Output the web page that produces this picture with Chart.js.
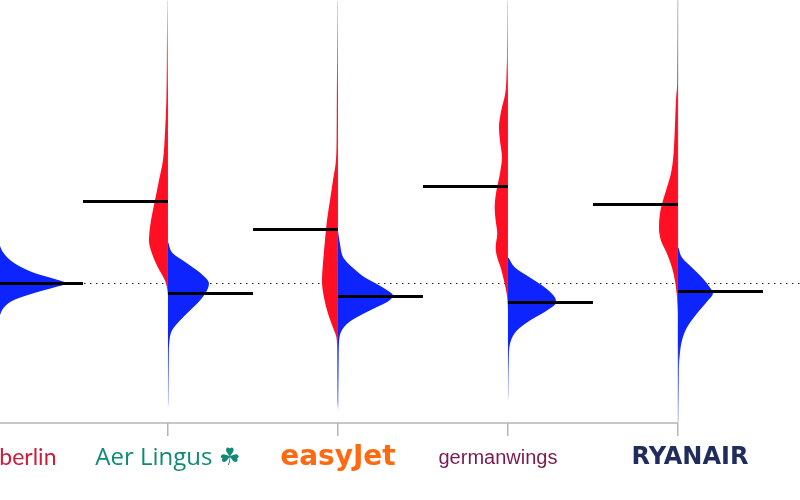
<!DOCTYPE html>
<html>
<head>
<meta charset="utf-8">
<script src="https://cdn.jsdelivr.net/npm/chart.js@4"></script>
<style>
    html, body { margin: 0; padding: 0; background: #fff; }
    #wrap { width: 800px; height: 500px; }
</style>
</head>
<body>
<div id="wrap"><canvas id="chart"></canvas></div>
<script>
// Split violins: red = left half, blue = right half, one pair per airline

const airlines = ['airberlin', 'Aer Lingus', 'easyJet', 'germanwings', 'Ryanair'];
const tickLabels = ['\u2002\u2002\u2002airberlin', 'Aer Lingus \u2618', 'easyJet', 'germanwings\u2003', '\u2003RYANAIR'];
const labelColors = ['#c81e3c', '#108a74', '#ff6a10', '#7b1a4f', '#1f2c5c'];

// [value, density] pairs (top to bottom)
const airberlinRed = [[283, 0.6], [150, 0.8], [110, 3], [90, 10], [73, 16], [55, 14], [35, 6], [15, 1.5], [0, 0]];
const airberlinBlue = [[50, 0.5], [38, 2], [30, 6], [22, 14], [15, 26], [10, 38], [5, 55], [0, 68], [-4, 56], [-9, 38], [-17, 15], [-24, 6], [-32, 2], [-45, 0.8], [-80, 0]];

const aerLingusRed = [[283, 0.7], [250, 1], [183, 1.6], [150, 3], [123, 5], [103, 9], [83, 13], [63, 17], [43, 19], [30, 16], [16, 10], [3, 3], [-7, 0.5], [-12, 0]];
const aerLingusBlue = [[42, 0], [30, 5], [23, 15], [16, 25], [10, 33], [0, 41], [-7, 39], [-17, 32], [-27, 22], [-37, 12], [-47, 4], [-57, 1.5], [-70, 0.9], [-117, 0.6], [-125, 0]];

const easyJetRed = [[283, 0.8], [150, 1.3], [123, 2], [103, 5], [83, 8], [63, 11], [43, 13], [20, 15], [3, 16], [-14, 14], [-30, 10], [-44, 5], [-54, 1.5], [-70, 0.8], [-117, 0.5], [-125, 0]];
const easyJetBlue = [[53, 0], [40, 2], [25, 6], [13, 18], [6, 27], [0, 38], [-6, 48], [-12, 55], [-18, 50], [-24, 38], [-31, 24], [-38, 12], [-45, 5], [-54, 1.5], [-70, 0.8], [-120, 0.5], [-130, 0]];

const germanwingsRed = [[283, 0.8], [223, 1], [216, 1.3], [190, 2.7], [173, 6.7], [156, 9], [143, 8], [126, 6], [110, 8], [90, 12], [76, 13.3], [63, 12.3], [50, 10.7], [36, 12.3], [26, 10.7], [16, 7.3], [3, 4], [-10, 1.3], [-17, 0.5], [-27, 0]];
const germanwingsBlue = [[26, 0.5], [16, 7], [6, 22], [-4, 37], [-14, 47], [-19, 48], [-27, 39], [-37, 22], [-47, 9], [-57, 3], [-70, 1], [-110, 0.5], [-118, 0]];

const ryanairRed = [[283, 0.6], [200, 0.8], [183, 2], [150, 3.3], [123, 5], [110, 7], [96, 11], [83, 15], [70, 18], [56, 19], [43, 17], [30, 11], [16, 6], [3, 3], [-10, 1.3], [-24, 0.3], [-30, 0]];
const ryanairBlue = [[36, 0.5], [26, 4], [16, 14], [6, 24], [-4, 32], [-10, 35], [-17, 30], [-30, 19], [-44, 9], [-57, 4], [-70, 2], [-84, 1], [-137, 0.5], [-139, 0]];

const redSeries = [airberlinRed, aerLingusRed, easyJetRed, germanwingsRed, ryanairRed];
const blueSeries = [airberlinBlue, aerLingusBlue, easyJetBlue, germanwingsBlue, ryanairBlue];

const meansRed = [73, 82, 54, 97, 79];
const meansBlue = [0, -10, -13, -19, -8];

const RED = '#ff0f23';
const BLUE = '#0d24ff';
const WIDTH_SCALE = 1 / 170;   // density -> category units
const X_MIN = 0.012, X_MAX = 4.718;
const Y_MIN = -139.5, Y_MAX = 283.5;

const labelFonts = [
    { family: 'Lato', size: 23, lineHeight: '26px' },
    { family: 'Open Sans', size: 24, lineHeight: '26px' },
    { family: 'DejaVu Sans', size: 28, weight: 'bold', lineHeight: '26px' },
    { family: 'Liberation Sans', size: 20, lineHeight: '26px' },
    { family: 'DejaVu Sans', size: 24, weight: 'bold', lineHeight: '26px' }
];

// tails fade out towards the ends of the range, like the thin kde tails
function fadeFill(color, fromValue, toValue) {
    return (ctx) => {
        const chart = ctx.chart;
        const area = chart.chartArea;
        const yScale = chart.scales.y;
        if (!area || !yScale) return color;
        const y0 = yScale.getPixelForValue(fromValue);
        const y1 = yScale.getPixelForValue(toValue);
        const g = chart.ctx.createLinearGradient(0, y0, 0, y1);
        g.addColorStop(0, color + '40');
        g.addColorStop(1, color);
        return g;
    };
}

function halfViolin(pairs, i, side, color) {
    const fade = side < 0 ? fadeFill(color, Y_MAX, 190) : fadeFill(color, Y_MIN, -60);
    return {
        data: pairs.map(([v, d]) => ({ x: i + side * d * WIDTH_SCALE, y: v })),
        backgroundColor: fade,
        borderColor: color,
        borderWidth: 0,
        pointRadius: 0,
        fill: { value: i },
        cubicInterpolationMode: 'monotone',
        capBezierPoints: false,
        order: 1
    };
}

function segment(x0, y0, x1, y1, color, width, extra) {
    return Object.assign({
        data: [{ x: x0, y: y0 }, { x: x1, y: y1 }],
        borderColor: color,
        borderWidth: width,
        pointRadius: 0,
        fill: false,
        tension: 0,
        clip: false
    }, extra);
}

const datasets = [];
airlines.forEach((name, i) => {
    datasets.push(segment(i - 0.5, meansRed[i], i, meansRed[i], '#000', 3, { order: 0 }));
    datasets.push(segment(i, meansBlue[i], i + 0.5, meansBlue[i], '#000', 3, { order: 0 }));
});
airlines.forEach((name, i) => {
    datasets.push(halfViolin(redSeries[i], i, -1, RED));
    datasets.push(halfViolin(blueSeries[i], i, 1, BLUE));
});
// reference line at zero, axis line and right edge
datasets.push(segment(X_MIN, 0, X_MAX, 0, '#222', 1, { borderDash: [1.5, 4.5], order: 3 }));
datasets.push(segment(X_MIN, Y_MIN, 4, Y_MIN, '#b5b5b5', 1.5, { order: 2 }));
datasets.push(segment(4, Y_MIN, 4, Y_MAX, '#d2d2d2', 1, { order: 2 }));

new Chart(document.getElementById('chart'), {
    type: 'line',
    data: { datasets },
    options: {
        indexAxis: 'y',
        responsive: true,
        maintainAspectRatio: false,
        animation: false,
        events: [],
        layout: { padding: { left: 0, right: 0, top: 0, bottom: 20 } },
        plugins: {
            legend: { display: false },
            tooltip: { enabled: false }
        },
        scales: {
            x: {
                type: 'linear',
                min: X_MIN,
                max: X_MAX,
                afterBuildTicks: (scale) => {
                    scale.ticks = airlines.map((_, i) => ({ value: i }));
                },
                afterFit: (scale) => {
                    scale.paddingLeft = 0;
                    scale.paddingRight = 0;
                },
                border: { display: false },
                grid: {
                    display: true,
                    drawOnChartArea: false,
                    drawTicks: true,
                    tickLength: 13,
                    color: '#b5b5b5',
                    lineWidth: 1.5
                },
                ticks: {
                    autoSkip: false,
                    maxRotation: 0,
                    padding: 9,
                    callback: (v) => tickLabels[v],
                    color: (ctx) => labelColors[ctx.index],
                    font: (ctx) => labelFonts[ctx.index]
                }
            },
            y: {
                type: 'linear',
                min: Y_MIN,
                max: Y_MAX,
                display: false
            }
        }
    }
});
</script>
</body>
</html>
